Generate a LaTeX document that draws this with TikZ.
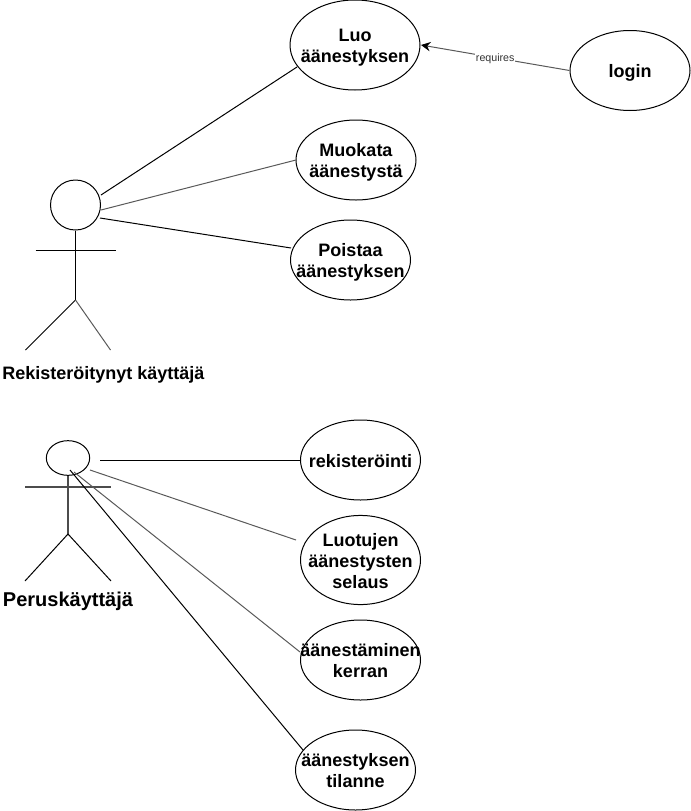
\documentclass[tikz,border=0pt]{standalone}
\usepackage{fontspec}
\setmainfont{Liberation Sans}
\usetikzlibrary{shapes.geometric,arrows.meta}
\newcommand{\uctext}[1]{\makebox[0pt]{\raisebox{-2.25pt}[\height][\depth]{\begin{tabular}{@{}c@{}}#1\end{tabular}}}}
\tikzset{
  every node/.style={font=\fontsize{13.5}{15.75}\selectfont\bfseries},
  usecase/.style={draw=black,ellipse,inner sep=0pt,line width=0.75pt,minimum width=90pt,minimum height=60pt},
  stick/.style={draw=black,line width=0.75pt},
  softstick/.style={draw=black!65,line width=0.75pt},
}
\begin{document}
\begin{tikzpicture}[x=0.75pt,y=-0.75pt]
\useasboundingbox (0,0) rectangle (691,811);
\renewcommand{\arraystretch}{1}
\setlength{\tabcolsep}{0pt}
% use cases
\node[usecase,minimum width=97.5pt,minimum height=67.5pt] (luo) at (355,45) {\uctext{Luo\\äänestyksen}};
\node[usecase] (muokata) at (356,160) {\uctext{Muokata\\äänestystä}};
\node[usecase] (poistaa) at (350.5,260) {\uctext{Poistaa\\äänestyksen}};
\node[usecase] (login) at (630,70.5) {\uctext{login}};
\node[usecase] (rek) at (360.5,460) {\uctext{rekisteröinti}};
\node[usecase] (luotu) at (360.5,560) {\uctext{Luotujen\\äänestysten\\selaus}};
\node[usecase] (aanest) at (360.5,660) {\uctext{äänestäminen\\kerran}};
\node[usecase] (tilanne) at (355.5,770) {\uctext{äänestyksen\\tilanne}};
% actor 1
\node[draw=black,circle,minimum size=37.5pt,inner sep=0pt,line width=0.75pt] (head1) at (75.5,205) {};
\coordinate (hip1) at (75.5,300);
\coordinate (armL1) at (35.5,250);
\coordinate (armR1) at (115.5,250);
\coordinate (legL1) at (25.5,350);
\coordinate (legR1) at (110.5,350);
\draw[stick] (head1.south) -- (hip1);
\draw[stick] (armL1) -- (armR1);
\draw[stick] (hip1) -- (legL1);
\draw[softstick] (hip1) -- (legR1);
\node[anchor=center] (label1) at (103.5,375) {Rekisteröitynyt käyttäjä};
% actor 2
\node[draw=black,ellipse,minimum width=32.5pt,minimum height=26pt,inner sep=0pt,line width=0.75pt] (head2) at (68,458) {};
\coordinate (hip2) at (68,534);
\coordinate (armL2) at (25,487);
\coordinate (armR2) at (111,487);
\coordinate (legL2) at (25,581);
\coordinate (legR2) at (111,581);
\draw[draw=black!70,line width=1pt] (head2.south) -- (hip2);
\draw[draw=black!70,line width=1pt] (armL2) -- (armR2);
\draw[stick] (hip2) -- (legL2);
\draw[stick] (hip2) -- (legR2);
\node[anchor=center,font=\fontsize{15}{18}\selectfont\bfseries] (label2) at (68,601) {Peruskäyttäjä};
% connectors
\coordinate (a1) at (101,195);
\coordinate (a2) at (101,210);
\coordinate (a3) at (100,218);
\coordinate (b1) at (100,460.5);
\coordinate (b2) at (90,470);
\coordinate (b3) at (74,472);
\coordinate (b4) at (70,470);
\coordinate (e1) at (297,67);
\coordinate (e2) at (296,160);
\coordinate (e3) at (291,248);
\coordinate (e4) at (300.5,460.5);
\coordinate (e5) at (296,540);
\coordinate (e6) at (300,652);
\coordinate (e7) at (303,750);
\draw[stick] (a1) -- (e1);
\draw[softstick] (a2) -- (e2);
\draw[stick] (a3) -- (e3);
\draw[stick] (b1) -- (e4);
\draw[softstick] (b2) -- (e5);
\draw[softstick] (b3) -- (e6);
\draw[stick] (b4) -- (e7);
\coordinate (tipluo) at (421,45);
\draw[softstick,-{Stealth[length=7pt,width=7pt,color=black]}] (login.west) -- (tipluo)
  node[pos=0.5,yshift=-0.5pt,fill=white,inner sep=0.5pt,font=\fontsize{8}{9.5}\selectfont,text=black!80] (req) {requires};
\end{tikzpicture}
\end{document}
